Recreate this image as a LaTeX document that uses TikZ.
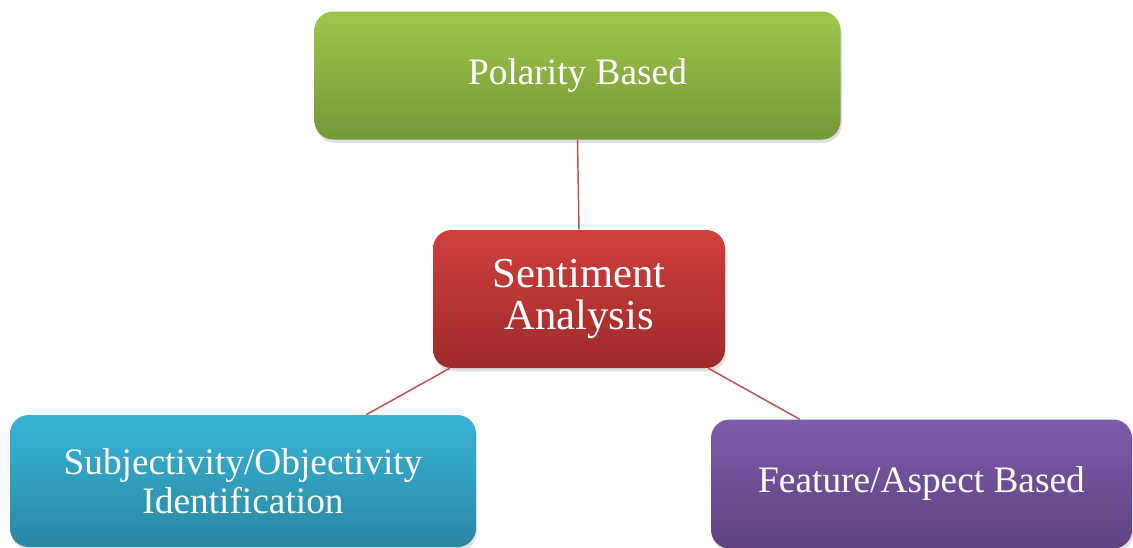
\documentclass[tikz,border=0pt]{standalone}
\usepackage{fontspec}
\setmainfont{Liberation Serif}
\usetikzlibrary{shadows,calc}
\definecolor{linkred}{HTML}{C0504D}
\tikzset{
  box/.style={rounded corners=14pt, draw=none, text=white, align=center,
    inner sep=0pt, font=\fontsize{28}{29}\selectfont,
    drop shadow={opacity=0.25, shadow xshift=1pt, shadow yshift=-2.5pt}},
  greenbox/.style={box, top color=green!0!black!0!white, top color={rgb,255:red,158;green,198;blue,74}, bottom color={rgb,255:red,118;green,152;blue,56}},
  redbox/.style={box, top color={rgb,255:red,208;green,63;blue,60}, bottom color={rgb,255:red,158;green,42;blue,42}},
  cyanbox/.style={box, top color={rgb,255:red,56;green,180;blue,215}, bottom color={rgb,255:red,42;green,135;blue,163}},
  purplebox/.style={box, top color={rgb,255:red,126;green,90;blue,170}, bottom color={rgb,255:red,96;green,66;blue,128}},
  link/.style={draw=linkred, line width=1.1pt}
}
\begin{document}
\begin{tikzpicture}[x=0.75pt,y=-0.75pt]
\useasboundingbox (0,0) rectangle (1133,547);
\node[greenbox, minimum width=526*0.75pt, minimum height=128*0.75pt] (g) at (577.5,75.5) {Polarity Based};
\node[redbox, minimum width=292*0.75pt, minimum height=138*0.75pt, font=\fontsize{32}{31}\selectfont] (r) at (579,299) {Sentiment\\Analysis};
\node[cyanbox, minimum width=466*0.75pt, minimum height=132*0.75pt] (c) at (243,481) {Subjectivity/Objectivity\\Identification};
\node[purplebox, minimum width=421*0.75pt, minimum height=129*0.75pt] (p) at (921.5,484) {Feature/Aspect Based};
\draw[link] ($(g.south west)!0.5!(g.south east)$) -- ($(r.north west)!0.5!(r.north east)$);
\draw[link] ($(r.south west)!0.058!(r.south east)$) -- ($(c.north west)!0.764!(c.north east)$);
\draw[link] ($(r.south west)!0.942!(r.south east)$) -- ($(p.north west)!0.211!(p.north east)$);
\end{tikzpicture}
\end{document}
